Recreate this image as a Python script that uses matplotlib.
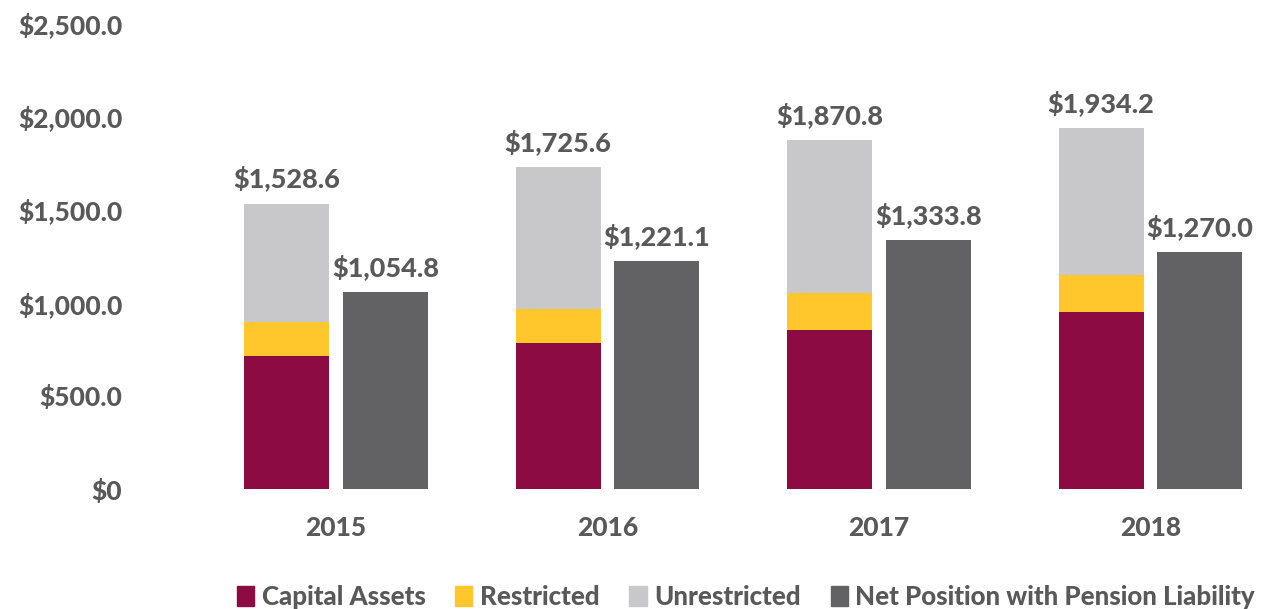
import numpy as np
import matplotlib.pyplot as plt
from matplotlib.patches import Patch

years = ["2015", "2016", "2017", "2018"]
capital = [714, 785, 854, 952]
restricted = [182, 181, 196, 196]
unrestricted = [632.6, 759.6, 820.8, 786.2]
totals = [1528.6, 1725.6, 1870.8, 1934.2]
net_pension = [1054.8, 1221.1, 1333.8, 1270.0]

c_cap = "#8B0B42"
c_res = "#FFC72C"
c_unr = "#C8C8CA"
c_net = "#626264"
txt = "#595959"

plt.rcParams["font.family"] = ["Lato", "DejaVu Sans"]
plt.rcParams["font.weight"] = "black"

fig = plt.figure(figsize=(12.78, 6.09), dpi=100)
ax = fig.add_axes([150 / 1278, (609 - 489.3) / 609, 1128 / 1278, 466.6 / 609])

x = np.arange(len(years))
w = 0.313
off = 0.182

ax.bar(x - off, capital, w, color=c_cap)
ax.bar(x - off, restricted, w, bottom=capital, color=c_res)
bot2 = np.array(capital) + np.array(restricted)
ax.bar(x - off, unrestricted, w, bottom=bot2, color=c_unr)
ax.bar(x + off, net_pension, w, color=c_net)

for i in range(len(years)):
    ax.annotate(f"${totals[i]:,.1f}", (x[i] - off, totals[i]), xytext=(0, 9),
                textcoords="offset points", ha="center", va="bottom",
                fontsize=19.5, fontweight="black", color=txt)
    ax.annotate(f"${net_pension[i]:,.1f}", (x[i] + off, net_pension[i]), xytext=(0, 9),
                textcoords="offset points", ha="center", va="bottom",
                fontsize=19.5, fontweight="black", color=txt)

ax.set_xlim((150 - 336) / 271.5, (1278 - 336) / 271.5)
ax.set_ylim(0, 2500)
ax.set_yticks([0, 500, 1000, 1500, 2000, 2500])
ax.set_yticklabels(["$0", "$500.0", "$1,000.0", "$1,500.0", "$2,000.0", "$2,500.0"])
ax.set_xticks(x)
ax.set_xticklabels(years)
ax.tick_params(length=0, labelsize=19, labelcolor=txt)
ax.tick_params(axis="y", pad=20)
ax.tick_params(axis="x", pad=19)
for s in ax.spines.values():
    s.set_visible(False)

handles = [Patch(color=c_cap, label="Capital Assets"),
           Patch(color=c_res, label="Restricted"),
           Patch(color=c_unr, label="Unrestricted"),
           Patch(color=c_net, label="Net Position with Pension Liability")]
leg = fig.legend(handles=handles, loc="center", bbox_to_anchor=(746 / 1278, 1 - 597 / 609),
                 ncol=4, frameon=False, fontsize=18.6, handlelength=0.66, handleheight=0.85,
                 handletextpad=0.3, columnspacing=1.15)
for t in leg.get_texts():
    t.set_color(txt)

fig.savefig("out.png", dpi=100)
